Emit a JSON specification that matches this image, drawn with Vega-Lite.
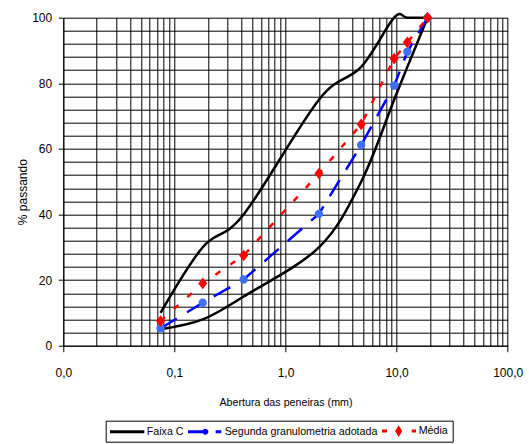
{
  "$schema": "https://vega.github.io/schema/vega-lite/v6.json",
  "width": 444.4,
  "height": 328,
  "autosize": {"type": "none"},
  "padding": {"left": 63.3, "top": 17.7, "right": 21.3, "bottom": 98.3},
  "background": "white",
  "config": {
    "font": "Liberation Sans",
    "view": {"stroke": null},
    "axis": {
      "domainColor": "black",
      "domainWidth": 1,
      "tickColor": "black",
      "tickWidth": 1,
      "labelColor": "black",
      "labelFont": "Liberation Sans",
      "labelFontSize": 12,
      "titleFont": "Liberation Sans",
      "titleColor": "black",
      "titleFontWeight": "normal",
      "gridColor": "black",
      "gridWidth": 1,
      "gridOpacity": 1
    }
  },
  "data": {
    "values": [
      {"serie": "Faixa C", "limite": "sup", "abertura": 0.075, "passando": 10},
      {"serie": "Faixa C", "limite": "sup", "abertura": 0.18, "passando": 30},
      {"serie": "Faixa C", "limite": "sup", "abertura": 0.42, "passando": 40},
      {"serie": "Faixa C", "limite": "sup", "abertura": 2.0, "passando": 75},
      {"serie": "Faixa C", "limite": "sup", "abertura": 4.8, "passando": 85},
      {"serie": "Faixa C", "limite": "sup", "abertura": 9.5, "passando": 100},
      {"serie": "Faixa C", "limite": "sup", "abertura": 12.5, "passando": 100},
      {"serie": "Faixa C", "limite": "sup", "abertura": 19.0, "passando": 100},
      {"serie": "Faixa C", "limite": "inf", "abertura": 0.075, "passando": 5},
      {"serie": "Faixa C", "limite": "inf", "abertura": 0.18, "passando": 8},
      {"serie": "Faixa C", "limite": "inf", "abertura": 0.42, "passando": 15},
      {"serie": "Faixa C", "limite": "inf", "abertura": 2.0, "passando": 30},
      {"serie": "Faixa C", "limite": "inf", "abertura": 4.8, "passando": 50},
      {"serie": "Faixa C", "limite": "inf", "abertura": 9.5, "passando": 75},
      {"serie": "Faixa C", "limite": "inf", "abertura": 12.5, "passando": 85},
      {"serie": "Faixa C", "limite": "inf", "abertura": 19.0, "passando": 100},
      {"serie": "Segunda granulometria adotada", "limite": "-", "abertura": 0.075, "passando": 5.3},
      {"serie": "Segunda granulometria adotada", "limite": "-", "abertura": 0.18, "passando": 13.1},
      {"serie": "Segunda granulometria adotada", "limite": "-", "abertura": 0.42, "passando": 20.2},
      {"serie": "Segunda granulometria adotada", "limite": "-", "abertura": 2.0, "passando": 40.2},
      {"serie": "Segunda granulometria adotada", "limite": "-", "abertura": 4.8, "passando": 61.2},
      {"serie": "Segunda granulometria adotada", "limite": "-", "abertura": 9.5, "passando": 79.3},
      {"serie": "Segunda granulometria adotada", "limite": "-", "abertura": 12.5, "passando": 89.6},
      {"serie": "Segunda granulometria adotada", "limite": "-", "abertura": 19.0, "passando": 100},
      {"serie": "Média", "limite": "-", "abertura": 0.075, "passando": 7.5},
      {"serie": "Média", "limite": "-", "abertura": 0.18, "passando": 19},
      {"serie": "Média", "limite": "-", "abertura": 0.42, "passando": 27.5},
      {"serie": "Média", "limite": "-", "abertura": 2.0, "passando": 52.5},
      {"serie": "Média", "limite": "-", "abertura": 4.8, "passando": 67.5},
      {"serie": "Média", "limite": "-", "abertura": 9.5, "passando": 87.5},
      {"serie": "Média", "limite": "-", "abertura": 12.5, "passando": 92.5},
      {"serie": "Média", "limite": "-", "abertura": 19.0, "passando": 100}
    ]
  },
  "encoding": {
    "x": {
      "field": "abertura",
      "type": "quantitative",
      "scale": {"type": "log", "domain": [0.01, 100], "nice": false},
      "axis": {
        "title": "Abertura das peneiras (mm)",
        "titleFontSize": 10.7,
        "titleX": 222.2,
        "titleY": 59.3,
        "titleAlign": "center",
        "titleBaseline": "alphabetic",
        "values": [0.01, 0.02, 0.03, 0.04, 0.05, 0.06, 0.07, 0.08, 0.09, 0.1, 0.2, 0.3, 0.4, 0.5, 0.6, 0.7, 0.8, 0.9, 1, 2, 3, 4, 5, 6, 7, 8, 9, 10, 20, 30, 40, 50, 60, 70, 80, 90, 100],
        "labelExpr": "indexof([0.01, 0.1, 1, 10, 100], datum.value) >= 0 ? replace(format(datum.value, '.1f'), '.', ',') : ''",
        "tickOpacity": {"condition": {"test": "indexof([0.01, 0.1, 1, 10, 100], datum.value) >= 0", "value": 1}, "value": 0},
        "tickSize": 6,
        "labelPadding": 24.3,
        "labelBaseline": "alphabetic",
        "labelFlush": false,
        "labelOverlap": false,
        "labelBound": false,
        "grid": true
      }
    },
    "y": {
      "field": "passando",
      "type": "quantitative",
      "scale": {"domain": [0, 100], "nice": false},
      "axis": {
        "title": "% passando",
        "titleFontSize": 12,
        "titleX": -36.6,
        "titleY": 174,
        "titleAngle": -90,
        "titleAlign": "center",
        "titleBaseline": "alphabetic",
        "values": [0, 4, 8, 12, 16, 20, 24, 28, 32, 36, 40, 44, 48, 52, 56, 60, 64, 68, 72, 76, 80, 84, 88, 92, 96, 100],
        "labelExpr": "datum.value % 20 == 0 ? datum.label : ''",
        "tickOpacity": {"condition": {"test": "datum.value % 20 == 0", "value": 1}, "value": 0},
        "tickSize": 5,
        "labelPadding": 6.6,
        "labelFlush": false,
        "labelOverlap": false,
        "labelBound": false,
        "grid": true
      }
    }
  },
  "layer": [
    {
      "transform": [{"filter": "datum.serie === 'Faixa C'"}],
      "mark": {"type": "line", "color": "black", "strokeWidth": 2.5, "interpolate": "cardinal"},
      "encoding": {"detail": {"field": "limite"}}
    },
    {
      "transform": [{"filter": "datum.serie === 'Segunda granulometria adotada'"}],
      "mark": {"type": "line", "color": "#0000FF", "strokeWidth": 2.5, "strokeDash": [19, 12]},
      "encoding": {}
    },
    {
      "transform": [{"filter": "datum.serie === 'Média'"}],
      "mark": {"type": "line", "color": "#FF0000", "strokeWidth": 2.5, "strokeDash": [6, 12]},
      "encoding": {}
    },
    {
      "transform": [{"filter": "datum.serie === 'Segunda granulometria adotada'"}],
      "mark": {"type": "point", "filled": true, "shape": "circle", "size": 70, "color": "#3F6FFF", "opacity": 1}
    },
    {
      "transform": [{"filter": "datum.serie === 'Média'"}],
      "mark": {"type": "point", "filled": true, "shape": "M-1,0L0,-1.3L1,0L0,1.3Z", "size": 81, "color": "#FF0000", "opacity": 1}
    },
    {
      "transform": [{"filter": "false"}],
      "mark": {"type": "point", "filled": true, "opacity": 1},
      "encoding": {
        "color": {
          "field": "serie",
          "type": "nominal",
          "scale": {"domain": ["Faixa C", "Segunda granulometria adotada", "Média"], "range": ["#000000", "#0000FF", "#FF0000"]},
          "legend": {
            "orient": "none", "legendX": 42.4, "legendY": 403, "direction": "horizontal", "title": null,
            "labelFont": "Liberation Sans", "labelFontSize": 10.7, "labelColor": "black", "labelOffset": 24.7, "labelLimit": 0,
            "symbolSize": 144, "symbolStrokeWidth": 0, "symbolOpacity": 1, "columnPadding": 4, "padding": 4.3,
            "strokeColor": "black", "fillColor": "white"
          }
        },
        "shape": {
          "field": "serie",
          "type": "nominal",
          "scale": {
            "domain": ["Faixa C", "Segunda granulometria adotada", "Média"],
            "range": [
              "M-1,-0.25H4.72V0.25H-1Z",
              "M-1,-0.25H1.5V0.25H-1ZM1.39,0A0.5,0.5 0 1,1 2.39,0A0.5,0.5 0 1,1 1.39,0ZM3.61,-0.25H4.55V0.25H3.61Z",
              "M-1,-0.25H-0.17V0.25H-1ZM1.18,0L1.78,-0.97L2.38,0L1.78,0.97ZM3.95,-0.25H4.67V0.25H3.95Z"
            ]
          },
          "legend": {
            "orient": "none", "legendX": 42.4, "legendY": 403, "direction": "horizontal", "title": null,
            "labelFont": "Liberation Sans", "labelFontSize": 10.7, "labelColor": "black", "labelOffset": 24.7, "labelLimit": 0,
            "symbolSize": 144, "symbolStrokeWidth": 0, "symbolOpacity": 1, "columnPadding": 4, "padding": 4.3,
            "strokeColor": "black", "fillColor": "white"
          }
        }
      }
    }
  ]
}
